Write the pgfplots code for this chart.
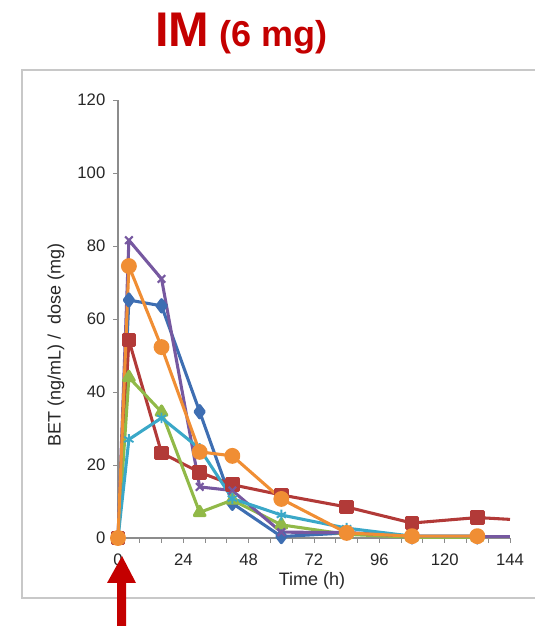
\documentclass[border=0pt]{standalone}
\usepackage{pgfplots}
\pgfplotsset{compat=1.18}
\usepackage{fontspec}
\setmainfont{Liberation Sans}
\definecolor{cblue}{RGB}{62,110,178}
\definecolor{cred}{RGB}{178,58,56}
\definecolor{cgreen}{RGB}{145,185,72}
\definecolor{cpurple}{RGB}{118,88,160}
\definecolor{ccyan}{RGB}{58,168,200}
\definecolor{corange}{RGB}{240,142,52}
\definecolor{ctitle}{RGB}{196,0,0}
\definecolor{cframe}{RGB}{200,200,200}
\begin{document}
\begin{tikzpicture}
\useasboundingbox (0,0) rectangle (401.25pt,469.5pt);
\clip (0,0) rectangle (401.25pt,469.5pt);
\draw[cframe, line width=1.2pt] (16.5pt,21pt) rectangle (420pt,417pt);
\node[anchor=base, text=ctitle, inner sep=0pt] at (181pt,434.5pt)
  {{\fontsize{36.5}{40}\selectfont\bfseries IM}{\fontsize{27}{30}\selectfont\bfseries\ (6 mg)}};
\begin{axis}[
  at={(88.5pt,66pt)}, anchor=south west,
  scale only axis, width=294pt, height=328.5pt,
  xmin=0, xmax=144, ymin=0, ymax=120,
  axis x line=bottom, axis y line=left,
  axis line style={-, draw=black!45, line width=0.8pt},
  xtick={0,24,...,144}, minor xtick={8,16,...,144},
  ytick={0,20,...,120},
  tick align=outside,
  major tick length=3.5pt, minor tick length=3.5pt,
  tick style={draw=black!45, line width=0.7pt},
  clip=false,
  /pgf/number format/assume math mode=true,
  ticklabel style={font=\fontsize{12.5}{12.5}\selectfont, text=black!85},
  x tick label style={yshift=-5pt},
  y tick label style={xshift=-2.5pt},
  xlabel={Time (h)}, ylabel={BET (ng/mL) /\ \ dose (mg)},
  label style={font=\fontsize{13.5}{14}\selectfont, text=black!85},
  x label style={at={(axis description cs:0.495,-0.098)}, anchor=center},
  y label style={at={(axis description cs:-0.158,0.441)}, anchor=center},
  every axis plot/.append style={line width=2.3pt, line join=round},
]
\addplot[cblue, mark=diamond*, mark size=4.6pt, mark options={solid}] coordinates {
(0,0) (4,65.2) (16,63.6) (30,34.6) (42,9.5) (60,0.4) (84,1.4) (108,0.3) (132,0.3)};
\addplot[cred, mark=square*, mark size=4.3pt] coordinates {
(0,0) (4,54.2) (16,23.3) (30,18) (42,14.6) (60,11.8) (84,8.5) (108,4.1) (132,5.6)};
\addplot[cred, no marks, forget plot] coordinates {(132,5.6) (144,5.1)};
\addplot[cgreen, mark=triangle*, mark size=4.6pt] coordinates {
(0,0) (4,44) (16,34.5) (30,7) (42,10.4) (60,3.6) (84,1) (108,0.2) (132,0.2)};
\addplot[cpurple, mark=x, mark size=4pt, mark options={line width=1.6pt}] coordinates {
(0,0) (4,81.6) (16,71) (30,14) (42,13) (60,1.6) (84,1.5) (108,0.5) (132,0.5)};
\addplot[cpurple, no marks, forget plot] coordinates {(132,0.5) (144,0.5)};
\addplot[ccyan, mark=asterisk, mark size=4pt, mark options={line width=1.4pt}] coordinates {
(0,0) (4,27) (16,32.9) (30,24.5) (42,10.8) (60,6.3) (84,2.7) (108,0.5) (132,0.5)};
\addplot[corange, mark=*, mark size=4.8pt] coordinates {
(0,0) (4,74.5) (16,52.3) (30,23.6) (42,22.5) (60,10.7) (84,1.4) (108,0.5) (132,0.5)};
\end{axis}
\fill[ctitle] (91.5pt,52.5pt) -- (102pt,32.25pt) -- (94.5pt,32.25pt) -- (94.5pt,-5pt)
  -- (87.75pt,-5pt) -- (87.75pt,32.25pt) -- (80.25pt,32.25pt) -- cycle;
\end{tikzpicture}
\end{document}
